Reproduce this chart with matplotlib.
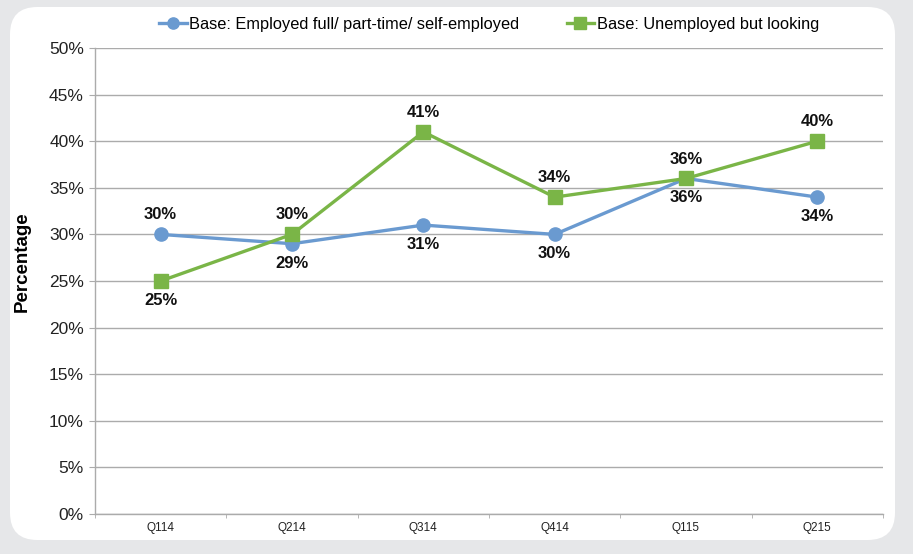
import matplotlib
matplotlib.use("Agg")
import matplotlib.pyplot as plt
from matplotlib.patches import FancyBboxPatch
from matplotlib.ticker import FixedLocator

quarters = ["Q114", "Q214", "Q314", "Q414", "Q115", "Q215"]
employed = [30, 29, 31, 30, 36, 34]
unemployed = [25, 30, 41, 34, 36, 40]
employed_label_pos = ["above", "below", "below", "below", "below", "below"]
unemployed_label_pos = ["below", "above", "above", "above", "above", "above"]
yticks = [0, 5, 10, 15, 20, 25, 30, 35, 40, 45, 50]

BLUE = "#6a9ad0"
GREEN = "#7ab547"
GRID = "#ababab"

plt.rcParams["font.family"] = ["Liberation Sans", "DejaVu Sans"]

W, H = 913, 554
fig = plt.figure(figsize=(W / 100, H / 100), dpi=100)
fig.patch.set_facecolor("#e6e7e9")

# rounded white panel, behind the axes
panel = FancyBboxPatch((10 / W, 14 / H), 885 / W, 533 / H,
                       boxstyle="round,pad=0,rounding_size=0.03",
                       transform=fig.transFigure, facecolor="white",
                       edgecolor="none", mutation_aspect=W / H, zorder=-10)
fig.add_artist(panel)

ax = fig.add_axes([95 / W, 1 - 514 / H, 788 / W, 466 / H])
ax.set_facecolor("none")
ax.set_zorder(1)

x = list(range(len(quarters)))
ax.plot(x, employed, color=BLUE, lw=2.4, marker="o", ms=9.5, zorder=3,
        label="Base: Employed full/ part-time/ self-employed")
ax.plot(x, unemployed, color=GREEN, lw=2.4, marker="s", ms=9.5, zorder=4,
        label="Base: Unemployed but looking")

for xs, vals, poss in [(x, employed, employed_label_pos), (x, unemployed, unemployed_label_pos)]:
    for xi, v, p in zip(xs, vals, poss):
        off = 14 if p == "above" else -14
        ax.annotate(f"{v}%", (xi, v), textcoords="offset points", xytext=(0, off),
                    ha="center", va="center", fontsize=12, fontweight="bold", color="#111111")

ax.set_xlim(-0.5, len(quarters) - 0.5)
ax.set_ylim(0, 50)
ax.set_yticks(yticks)
ax.set_yticklabels([f"{t}%" for t in yticks], fontsize=12.5, color="#222222")
ax.set_xticks(x)
ax.set_xticklabels(quarters, fontsize=8.5, color="#222222")
ax.tick_params(axis="x", length=0, pad=6)
ax.xaxis.set_minor_locator(FixedLocator([i - 0.5 for i in range(len(quarters) + 1)]))
ax.tick_params(axis="x", which="minor", length=3, color=GRID, direction="out")
ax.tick_params(axis="y", length=4, color=GRID, pad=4)

ax.grid(axis="y", color=GRID, lw=1)
ax.set_axisbelow(True)
for s in ["top", "right"]:
    ax.spines[s].set_visible(False)
for s in ["left", "bottom"]:
    ax.spines[s].set_color(GRID)
    ax.spines[s].set_linewidth(1)

ax.set_ylabel("Percentage", fontsize=13.5, fontweight="bold")
ax.yaxis.set_label_coords(-0.082, 0.541)

ax.legend(loc="lower center", bbox_to_anchor=(0.5, 1.0), ncol=2, frameon=False,
          fontsize=11.75, handlelength=1.7, handletextpad=0.15, columnspacing=2.9,
          markerscale=0.85, borderaxespad=0.6)

fig.savefig("out.png", dpi=100, facecolor=fig.get_facecolor())
